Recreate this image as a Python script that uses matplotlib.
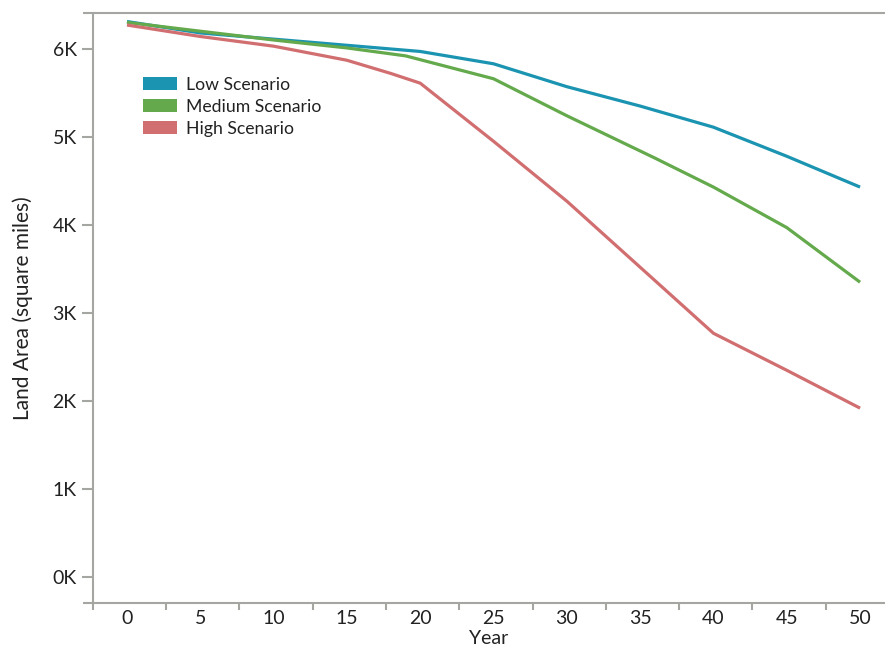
import matplotlib
matplotlib.use("Agg")
import matplotlib.pyplot as plt
from matplotlib.patches import Patch

plt.rcParams['font.family'] = ['Lato', 'DejaVu Sans']

# scenario data (square miles)
low_years = [0, 5, 10, 15, 20, 25, 30, 35, 40, 45, 50]
low_area = [6310, 6180, 6110, 6040, 5970, 5830, 5570, 5350, 5110, 4780, 4430]

medium_years = [0, 5, 10, 15, 19, 25, 30, 36, 40, 45, 50]
medium_area = [6300, 6200, 6100, 6010, 5920, 5660, 5240, 4760, 4430, 3970, 3350]

high_years = [0, 5, 10, 15, 18, 20, 25, 30, 35, 40, 45, 50]
high_area = [6270, 6140, 6030, 5870, 5720, 5610, 4950, 4270, 3520, 2770, 2350, 1920]

year_labels = [0, 5, 10, 15, 20, 25, 30, 35, 40, 45, 50]
y_ticks = [0, 1000, 2000, 3000, 4000, 5000, 6000]

blue = '#1b94b1'
green = '#64aa4c'
red = '#d16e70'
axis_gray = '#a3a6a1'
text_col = '#222222'

fig = plt.figure(figsize=(8.85, 6.48), dpi=100)
ax = fig.add_axes([0.1047, 0.0699, 0.8953, 0.9105])

ax.plot(low_years, low_area, color=blue, lw=2.3, solid_capstyle='butt')
ax.plot(medium_years, medium_area, color=green, lw=2.3, solid_capstyle='butt')
ax.plot(high_years, high_area, color=red, lw=2.3, solid_capstyle='butt')

ax.set_xlim(-2.34, 51.7)
ax.set_ylim(-289, 6410)

for s in ['top', 'right', 'bottom']:
    ax.spines[s].set_visible(False)
ax.spines['left'].set_color(axis_gray)
ax.spines['left'].set_linewidth(1.5)

# top and bottom rules, running a little past the left axis
for yy in (0, 1):
    ax.plot([-0.012, 1], [yy, yy], transform=ax.transAxes, color=axis_gray,
            lw=1.5, clip_on=False, solid_capstyle='butt')

ax.set_yticks(y_ticks)
ax.set_yticklabels([f'{int(v / 1000)}K' for v in y_ticks])
ax.tick_params(axis='y', length=8, width=1.5, color=axis_gray, pad=3.5,
               labelsize=14, labelcolor=text_col)

# band boundaries as ticks, year labels at band centres
ax.set_xticks([y - 2.34 for y in year_labels])
ax.set_xticklabels([])
ax.set_xticks(year_labels, minor=True)
ax.set_xticklabels([str(y) for y in year_labels], minor=True)
ax.tick_params(axis='x', which='major', length=5, width=1.5, color=axis_gray)
ax.tick_params(axis='x', which='minor', length=0, pad=5, labelsize=14,
               labelcolor=text_col)

ax.set_xlabel('Year', fontsize=14, color=text_col, labelpad=2.5)
ax.set_ylabel('Land Area (square miles)', fontsize=15, color=text_col, labelpad=14)

handles = [Patch(facecolor=blue, label='Low Scenario'),
           Patch(facecolor=green, label='Medium Scenario'),
           Patch(facecolor=red, label='High Scenario')]
leg = ax.legend(handles=handles, loc='upper left', bbox_to_anchor=(0.064, 0.891),
                frameon=False, fontsize=12.7, handlelength=1.93, handleheight=0.74,
                handletextpad=0.5, labelspacing=0.33, borderpad=0, borderaxespad=0)
for t in leg.get_texts():
    t.set_color(text_col)

fig.savefig('out.png', dpi=100)
